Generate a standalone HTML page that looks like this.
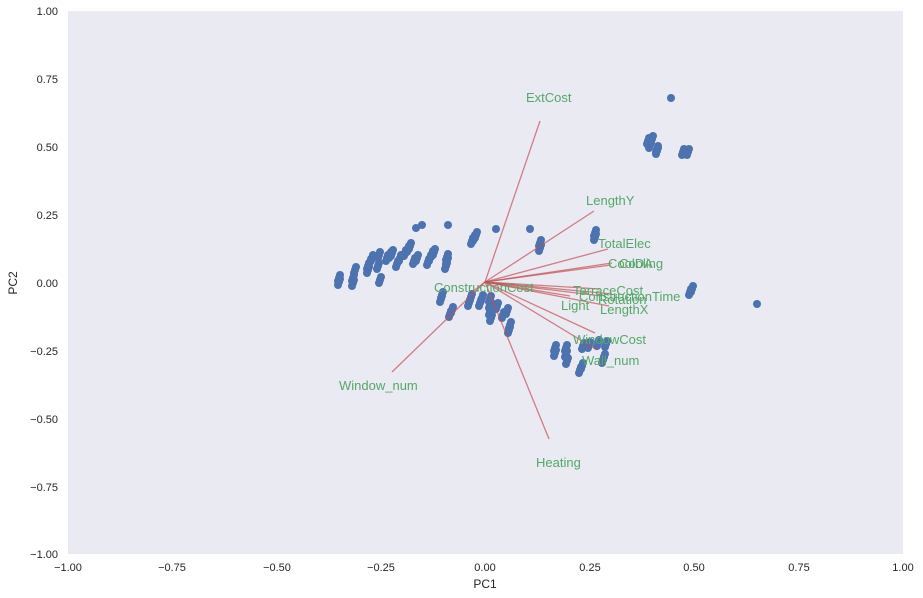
<!DOCTYPE html>
<html><head><style>body{margin:0;background:#fff}svg{display:block}</style></head><body>
<svg width="923" height="598" xmlns="http://www.w3.org/2000/svg" font-family="Liberation Sans, sans-serif">
<defs>
<g id="pts">
<circle cx="339" cy="278" r="4"/><circle cx="339" cy="282" r="4"/><circle cx="353" cy="278" r="4"/><circle cx="353" cy="283" r="4"/><circle cx="355" cy="270" r="4"/><circle cx="368" cy="270" r="4"/><circle cx="368" cy="266" r="4"/><circle cx="372" cy="258" r="4"/><circle cx="370" cy="262" r="4"/><circle cx="379" cy="255" r="4"/><circle cx="378" cy="266" r="4"/><circle cx="380" cy="280" r="4"/><circle cx="387" cy="258" r="4"/><circle cx="390" cy="255" r="4"/><circle cx="392" cy="253" r="4"/><circle cx="397" cy="264" r="4"/><circle cx="400" cy="258" r="4"/><circle cx="405" cy="253" r="4"/><circle cx="408" cy="249" r="4"/><circle cx="410" cy="246" r="4"/><circle cx="414" cy="261" r="4"/><circle cx="417" cy="258" r="4"/><circle cx="428" cy="262" r="4"/><circle cx="430" cy="258" r="4"/><circle cx="432" cy="254" r="4"/><circle cx="434" cy="252" r="4"/><circle cx="446" cy="266" r="4"/><circle cx="447" cy="261" r="4"/><circle cx="447" cy="257" r="4"/><circle cx="472" cy="241" r="4"/><circle cx="474" cy="238" r="4"/><circle cx="476" cy="235" r="4"/><circle cx="540" cy="243" r="4"/><circle cx="540" cy="248" r="4"/>
<circle cx="441" cy="299" r="4"/><circle cx="442" cy="295" r="4"/><circle cx="450" cy="314" r="4"/><circle cx="452" cy="310" r="4"/><circle cx="469" cy="303" r="4"/><circle cx="471" cy="297" r="4"/><circle cx="480" cy="303" r="4"/><circle cx="482" cy="298" r="4"/><circle cx="490" cy="299" r="4"/><circle cx="490" cy="305" r="4"/><circle cx="490" cy="312" r="4"/><circle cx="491" cy="318" r="4"/><circle cx="497" cy="306" r="4"/><circle cx="503" cy="315" r="4"/><circle cx="507" cy="311" r="4"/><circle cx="510" cy="325" r="4"/><circle cx="509" cy="330" r="4"/>
<circle cx="595" cy="233" r="4"/><circle cx="595" cy="237" r="4"/><circle cx="555" cy="348" r="4"/><circle cx="555" cy="353" r="4"/><circle cx="566" cy="348" r="4"/><circle cx="566" cy="354" r="4"/><circle cx="567" cy="361" r="4"/><circle cx="582" cy="366" r="4"/><circle cx="580" cy="370" r="4"/><circle cx="583" cy="346" r="4"/><circle cx="589" cy="345" r="4"/><circle cx="598" cy="343" r="4"/><circle cx="606" cy="344" r="4"/><circle cx="604" cy="357" r="4"/><circle cx="603" cy="360" r="4"/>
<circle cx="690" cy="292" r="4"/><circle cx="692" cy="289" r="4"/>
<circle cx="648" cy="141" r="4"/><circle cx="650" cy="145" r="4"/><circle cx="652" cy="139" r="4"/><circle cx="657" cy="149" r="4"/><circle cx="657" cy="151" r="4"/><circle cx="683" cy="152" r="4"/><circle cx="688" cy="152" r="4"/>
</g>
</defs>
<rect x="68" y="11" width="835" height="543" fill="#eaeaf2"/>
<g fill="#4c72b0">
<use href="#pts"/>
<use href="#pts" transform="translate(1,-3)"/>
<use href="#pts" transform="translate(-1,3)"/>
<circle cx="416" cy="228" r="4"/><circle cx="422" cy="225" r="4"/><circle cx="448" cy="225" r="4"/><circle cx="496" cy="229" r="4"/><circle cx="530" cy="229" r="4"/><circle cx="757" cy="304" r="4"/><circle cx="671" cy="98" r="4"/>
</g>
<g stroke="#c44e52" stroke-opacity="0.7" stroke-width="1.3">
<line x1="485" y1="282" x2="540" y2="121"/><line x1="485" y1="282" x2="594" y2="211"/><line x1="485" y1="282" x2="608" y2="249"/><line x1="485" y1="282" x2="611" y2="265"/><line x1="485" y1="282" x2="612" y2="263"/><line x1="485" y1="282" x2="600" y2="289"/><line x1="485" y1="282" x2="612" y2="294"/><line x1="485" y1="282" x2="602" y2="296"/><line x1="485" y1="282" x2="609" y2="306"/><line x1="485" y1="282" x2="570" y2="296"/><line x1="485" y1="282" x2="595" y2="333"/><line x1="485" y1="282" x2="597" y2="350"/><line x1="485" y1="282" x2="549" y2="439"/><line x1="485" y1="282" x2="392" y2="372"/><line x1="485" y1="282" x2="472" y2="292"/>
</g>
<g fill="#55a868" font-size="13">
<text x="526" y="102">ExtCost</text><text x="586" y="205">LengthY</text><text x="598" y="248">TotalElec</text><text x="608" y="268">CoolDA</text><text x="619" y="268">Cooling</text><text x="573" y="295">TerraceCost</text><text x="579" y="301">ConstructionTime</text><text x="598" y="304">Rotation</text><text x="600" y="314">LengthX</text><text x="561" y="310">Light</text><text x="573" y="344">WindowCost</text><text x="582" y="365">Wall_num</text><text x="536" y="467">Heating</text><text x="339" y="390">Window_num</text><text x="434" y="292">ConstructionCost</text>
</g>
<g font-size="11" fill="#262626" text-anchor="middle">
<text x="68" y="571">−1.00</text><text x="172" y="571">−0.75</text><text x="277" y="571">−0.50</text><text x="381" y="571">−0.25</text><text x="485" y="571">0.00</text><text x="590" y="571">0.25</text><text x="694" y="571">0.50</text><text x="799" y="571">0.75</text><text x="903" y="571">1.00</text>
<text x="485" y="588" font-size="12">PC1</text>
</g>
<g font-size="11" fill="#262626" text-anchor="end">
<text x="58" y="15">1.00</text><text x="58" y="83">0.75</text><text x="58" y="151">0.50</text><text x="58" y="219">0.25</text><text x="58" y="287">0.00</text><text x="58" y="355">−0.25</text><text x="58" y="423">−0.50</text><text x="58" y="491">−0.75</text><text x="58" y="558">−1.00</text>
</g>
<text x="17" y="283" font-size="12" fill="#262626" text-anchor="middle" transform="rotate(-90 17 283)">PC2</text>
</svg>
</body></html>
